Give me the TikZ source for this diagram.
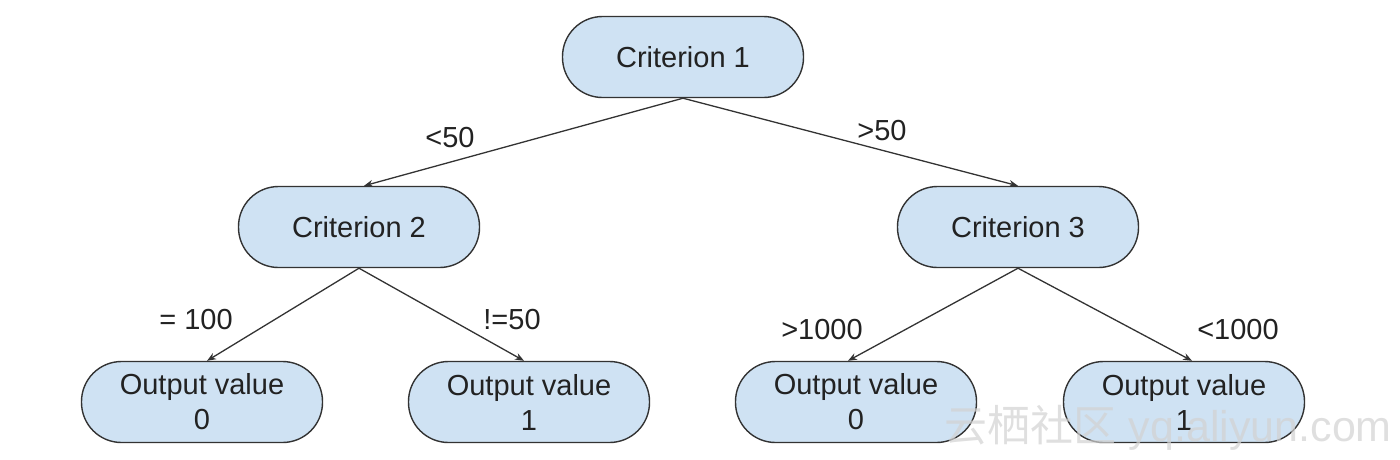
\documentclass[tikz,border=0pt]{standalone}
\usepackage{fontspec}
\setmainfont{Liberation Sans}
\newfontfamily\cjkfont{Noto Sans CJK SC}
\usetikzlibrary{arrows.meta}
\definecolor{nodefill}{HTML}{CFE2F3}
\definecolor{edgecol}{HTML}{333333}
\definecolor{txt}{HTML}{222222}
\begin{document}
\begin{tikzpicture}[x=1pt,y=-1pt,
  crit/.style={draw=edgecol, line width=1.4pt, fill=nodefill, rounded corners=40pt,
    minimum width=241pt, minimum height=81pt, inner sep=0pt, align=center,
    text=txt, font=\fontsize{29}{35}\selectfont},
  edge/.style={draw=edgecol, line width=1.3pt, -{Stealth[length=9pt,width=7pt]}},
  lbl/.style={text=txt, font=\fontsize{29}{35}\selectfont, inner sep=0pt}]
\useasboundingbox (0,0) rectangle (1400,459);
\node[crit] (c1) at (683,57) {Criterion 1};
\node[crit] (c2) at (359,227) {Criterion 2};
\node[crit] (c3) at (1018,227) {Criterion 3};
\node[crit] (o1) at (202,402) {Output value\\0};
\node[crit] (o2) at (529,402) {Output value\\1};
\node[crit] (o3) at (856,402) {Output value\\0};
\node[crit] (o4) at (1184,402) {Output value\\1};
\draw[edge] (c1.south) -- ([xshift=5pt]c2.north);
\draw[edge] (c1.south) -- (c3.north);
\draw[edge] (c2.south) -- ([xshift=5pt]o1.north);
\draw[edge] (c2.south) -- ([xshift=-5pt]o2.north);
\draw[edge] (c3.south) -- ([xshift=-8pt]o3.north);
\draw[edge] (c3.south) -- ([xshift=8pt]o4.north);
\node[lbl] (l1) at (450,138) {<50};
\node[lbl] (l2) at (882,131) {>50};
\node[lbl] (l3) at (196,320) {= 100};
\node[lbl] (l4) at (512,320) {!=50};
\node[lbl] (l5) at (822,330) {>1000};
\node[lbl] (l6) at (1238,330) {<1000};
\node[text=gray!35, opacity=0.7, font=\fontsize{43}{45}\selectfont, inner sep=0pt, anchor=east] (wm) at (1392,428) {{\cjkfont 云栖社区} yq.aliyun.com};
\end{tikzpicture}
\end{document}
